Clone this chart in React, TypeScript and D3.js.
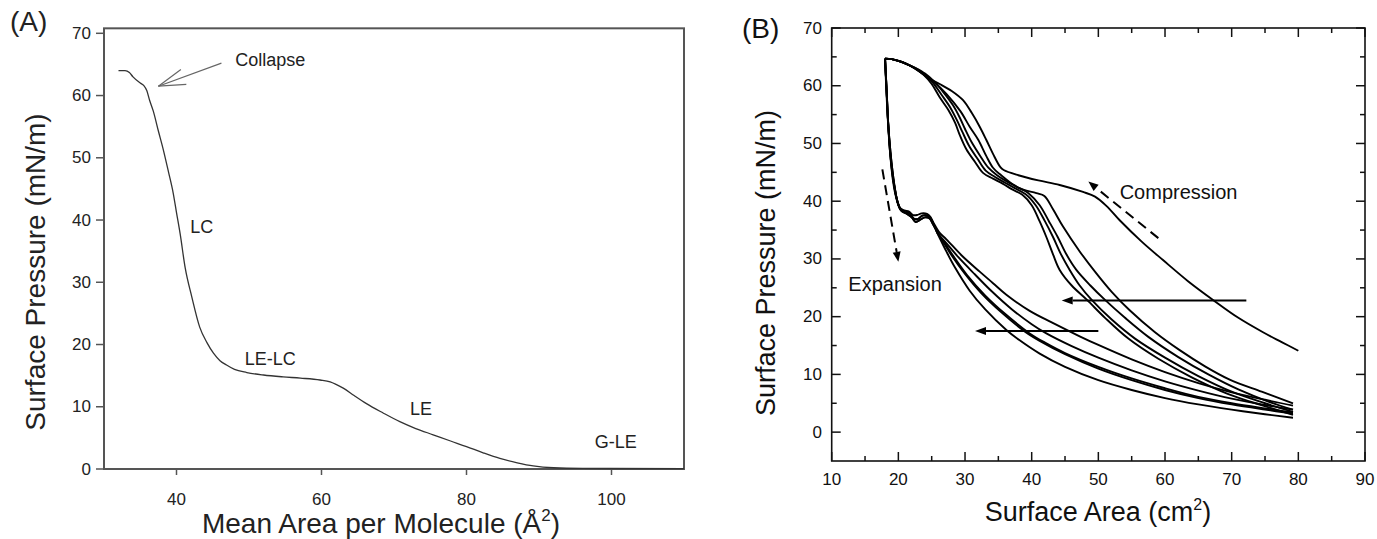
import React from 'react';
import * as d3 from 'd3';

type Pt = [number, number];

// ---------- Panel A data ----------
const isothermA: Pt[] = [
  [32, 64.0], [32.9, 64.0], [33.5, 63.7], [34, 63.0], [35, 62.0], [35.5, 61.6], [35.9, 60.8],
  [36.3, 59.2], [36.8, 57.5], [37.5, 54.3], [38.2, 51.2], [38.9, 47.7], [39.55, 44.3], [40.0, 41.2],
  [40.5, 37.8], [41.2, 32.3], [42.1, 27.7], [43.2, 22.8], [44.2, 20.3], [45.1, 18.6], [46.0, 17.4],
  [46.9, 16.7], [48, 16.0], [49.7, 15.5], [52, 15.1], [54.7, 14.8], [57.1, 14.6], [59.8, 14.3],
  [61.2, 14.0], [62, 13.6], [63, 13.0], [64.5, 11.8], [66.2, 10.5], [68.5, 9.0], [70.8, 7.6],
  [73, 6.5], [75.4, 5.5], [77.8, 4.5], [80, 3.6], [82.3, 2.6], [84.6, 1.7], [87, 1.0], [89.2, 0.5],
  [92, 0.2], [96, 0.1], [110, 0.05],
];
const xTicksA = [40, 60, 80, 100];
const yTicksA = [0, 10, 20, 30, 40, 50, 60, 70];
const labelsA: { text: string; x: number; y: number }[] = [
  { text: 'Collapse', x: 48.1, y: 64.7 },
  { text: 'LC', x: 41.9, y: 37.9 },
  { text: 'LE-LC', x: 49.4, y: 16.7 },
  { text: 'LE', x: 72.2, y: 8.7 },
  { text: 'G-LE', x: 97.7, y: 3.4 },
];
const collapseArrowA: Pt[] = [[46.2, 65.2], [37.5, 61.5]];

// ---------- Panel B data ----------
const compression1: Pt[] = [
  [80, 14.1], [77.5, 15.6], [74.7, 17.3], [71, 19.8], [67.2, 22.9], [63.5, 26.1], [59.7, 29.8],
  [56.5, 33], [53.2, 36.7], [51.2, 39.2], [49.5, 40.8], [47.7, 41.6], [44.2, 42.8], [41, 43.6],
  [38, 44.5], [35.8, 45.4], [35.3, 45.9], [34.2, 48.2], [33.2, 50.6], [32.2, 52.9], [31, 55.3],
  [29.7, 57.5], [28, 59.1], [26.2, 60.3], [24.7, 61.2], [23, 62.6], [21.7, 63.5], [20.3, 64.2],
  [19, 64.6], [18, 64.7],
];
const compression2: Pt[] = [
  [79.2, 5.0], [74.5, 7.0], [69.7, 9.1], [66, 11.4], [62.2, 14.2], [58.5, 17.3], [54.7, 21.1],
  [52, 24.3], [49.7, 27.5], [47.2, 31.3], [44.7, 35.6], [43.2, 38.6], [41.9, 40.9], [40.7, 41.4],
  [38, 42.3], [35.2, 44.7], [34.2, 45.8], [33.2, 47.8], [32, 50.6], [30.7, 52.9], [29.3, 55.6],
  [27.2, 58.6], [25.6, 60.4], [24.5, 61.3], [23, 62.6], [21.7, 63.5], [20.3, 64.2], [19, 64.6],
  [18, 64.7],
];
const compression3: Pt[] = [
  [79.2, 3.0], [74.7, 4.6], [69.5, 6.6], [64, 9.5], [59, 12.7], [54.5, 16.2], [51, 19.8],
  [48.3, 22.9], [46, 25.4], [44.2, 28.1], [43.2, 30.8], [42.2, 33.8], [41.2, 36.5], [40, 39.3],
  [38.6, 41.1], [37, 42.1], [35.7, 43.0], [34.2, 43.9], [32.7, 44.9], [31.5, 46.8], [30.2, 49.0],
  [29.2, 51.5], [28.5, 53.6], [27.5, 55.8], [26.2, 58.0], [25, 60.3], [23.8, 61.9], [22.5, 63],
  [21.2, 63.8], [20, 64.3], [19, 64.6], [18, 64.7],
];
const compression4: Pt[] = [
  [79.2, 3.5], [75, 5], [70, 7], [65, 9.7], [60, 12.9], [55.5, 16.2], [52, 19.5], [49, 22.9],
  [47.2, 25.4], [45.7, 28.1], [44.4, 30.8], [43.2, 33.8], [42, 36.5], [40.6, 39.3], [39.1, 41.2],
  [37.4, 42.3], [36, 43.2], [34.5, 44.2], [33.1, 45.3], [31.9, 47.3], [30.6, 49.6], [29.6, 52],
  [28.8, 54], [27.8, 56.2], [26.5, 58.4], [25.2, 60.5], [23.9, 62], [22.5, 63.1], [21.2, 63.8],
  [20, 64.3], [19, 64.6], [18, 64.7],
];
const compression5: Pt[] = [
  [79.2, 3.9], [75.5, 5.3], [71, 7.4], [66.5, 10], [62, 13], [57.5, 16.5], [54, 19.8], [51, 22.9],
  [48.8, 25.4], [46.7, 28.1], [45.2, 30.8], [43.9, 33.8], [42.6, 36.5], [41.2, 39.3], [39.6, 41.3],
  [37.8, 42.5], [36.3, 43.4], [34.8, 44.5], [33.5, 45.8], [32.3, 47.8], [31, 50.2], [30, 52.5],
  [29.2, 54.5], [28.2, 56.6], [26.8, 58.8], [25.4, 60.7], [24, 62.1], [22.5, 63.1], [21.2, 63.8],
  [20, 64.3], [19, 64.6], [18, 64.7],
];

const expansionHeadA: Pt[] = [
  [18, 64.7], [18.2, 60], [18.45, 54], [18.8, 48], [19.3, 43.2], [19.8, 40.2], [20.3, 38.6],
  [21, 38.1], [21.7, 37.9], [22.3, 37.0], [22.9, 36.9], [23.6, 37.5], [24.4, 37.5], [24.9, 36.9],
  [25.4, 35.7],
];
const expansionHeadB: Pt[] = [
  [18, 64.7], [18.25, 59], [18.5, 53], [18.9, 47.5], [19.4, 42.8], [19.9, 39.8], [20.5, 38.3],
  [21.3, 37.8], [22, 37.2], [22.6, 36.4], [23.3, 36.8], [24.0, 37.2], [24.7, 37.0], [25.2, 36.0],
  [25.6, 35.2],
];
const expansionHeadC: Pt[] = [
  [18, 64.7], [18.15, 60.5], [18.4, 54.5], [18.75, 48.5], [19.2, 43.5], [19.7, 40.5], [20.2, 38.9],
  [20.9, 38.4], [21.6, 38.2], [22.2, 37.6], [22.8, 37.6], [23.5, 37.9], [24.3, 37.8], [24.8, 37.3],
  [25.3, 36.2],
];
const expansion1: Pt[] = [
  ...expansionHeadC,
  [26.2, 34.5], [27.2, 33.4], [29.5, 30.6], [32.2, 27.8], [34.2, 25.8], [36.2, 23.8], [39.7, 21.0],
  [43, 19.0], [47.2, 16.6], [50, 15.1], [55, 12.6], [60, 10.4], [65, 8.5], [70, 6.9], [75, 5.6],
  [79.2, 4.6],
];
const expansion2: Pt[] = [
  ...expansionHeadA,
  [26, 34.3], [27, 33], [29, 30.3], [31.5, 27.3], [34, 24.4], [37, 21.3], [40, 18.7], [42.2, 17.1],
  [46, 14.9], [50, 12.9], [55, 10.7], [60, 8.8], [65, 7.2], [70, 5.8], [75, 4.7], [79.2, 3.9],
];
const expansion3: Pt[] = [
  ...expansionHeadB,
  [25.9, 34.5], [26.6, 33.2], [28, 30.6], [30, 27.4], [32.5, 24], [35.5, 20.7], [39, 17.4],
  [41.2, 15.8], [45, 13.5], [50, 11], [55, 9], [60, 7.3], [65, 5.9], [70, 4.8], [75, 3.9], [79.2, 3.2],
];
const expansion4: Pt[] = [
  ...expansionHeadA,
  [25.9, 34.4], [26.8, 33], [28.3, 30.4], [30.3, 27.2], [33, 23.7], [36, 20.5], [39.7, 17.1],
  [42, 15.5], [45, 13.7], [50, 11.3], [55, 9.3], [60, 7.6], [65, 6.1], [70, 5.0], [75, 4.1],
  [79.2, 3.4],
];
const expansion5: Pt[] = [
  ...expansionHeadB,
  [25.8, 34.6], [26.3, 33.4], [27.2, 31.3], [28.5, 28.5], [30.7, 24.5], [33, 21.3], [36.2, 17.7],
  [38.2, 15.9], [41.2, 13.6], [45, 11.3], [50, 9.0], [55, 7.3], [60, 5.9], [65, 4.8], [70, 3.9],
  [75, 3.1], [79.2, 2.5],
];
const curvesB: Pt[][] = [
  compression1, compression2, compression3, compression4, compression5,
  expansion1, expansion2, expansion3, expansion4, expansion5,
];
const xTicksB = [10, 20, 30, 40, 50, 60, 70, 80, 90];
const xMinorB = [15, 25, 35, 45, 55, 65, 75, 85];
const yTicksB = [0, 10, 20, 30, 40, 50, 60, 70];
const yMinorB = [5, 15, 25, 35, 45, 55, 65];
const solidArrowsB: Pt[][] = [
  [[72.2, 22.8], [44.5, 22.8]],
  [[50, 17.5], [31.5, 17.5]],
];
const dashedArrowsB: Pt[][] = [
  [[17.6, 45.5], [20.0, 29.5]],
  [[59.0, 33.6], [48.5, 43.4]],
];
const labelsB: { text: string; x: number; y: number }[] = [
  { text: 'Compression', x: 53.2, y: 40.3 },
  { text: 'Expansion', x: 12.5, y: 24.4 },
];

const FONT = "'Liberation Sans', Arial, Helvetica, sans-serif";

function headPath(x0: number, y0: number, x1: number, y1: number, len: number, half: number) {
  const a = Math.atan2(y1 - y0, x1 - x0);
  const bx = x1 - len * Math.cos(a);
  const by = y1 - len * Math.sin(a);
  const px = -Math.sin(a);
  const py = Math.cos(a);
  return {
    d: `M${x1},${y1}L${bx + half * px},${by + half * py}L${bx - half * px},${by - half * py}Z`,
    bx,
    by,
  };
}

export default function App() {
  // Panel A scales
  const xA = d3.scaleLinear().domain([30, 110]).range([104, 684]);
  const yA = d3.scaleLinear().domain([0, 70]).range([469, 33.3]);
  const topA = yA(70.8);
  const lineA = d3
    .line<Pt>()
    .x((d) => xA(d[0]))
    .y((d) => yA(d[1]))
    .curve(d3.curveMonotoneX);

  // Panel B scales
  const xB = d3.scaleLinear().domain([10, 90]).range([831.7, 1365]);
  const yB = d3.scaleLinear().domain([-5, 70]).range([461, 28]);
  const lineB = d3
    .line<Pt>()
    .x((d) => xB(d[0]))
    .y((d) => yB(d[1]))
    .curve(d3.curveCatmullRom.alpha(0.5));

  const grayA = '#555';
  const textA = '#222';

  // collapse arrow (open barbs)
  const [cs, ct] = collapseArrowA;
  const tx = xA(ct[0]);
  const ty = yA(ct[1]);
  const sx = xA(cs[0]);
  const sy = yA(cs[1]);
  const ang = Math.atan2(sy - ty, sx - tx);
  const barb = 28;
  const spread = (16.5 * Math.PI) / 180;

  return (
    <svg
      width={1377}
      height={539}
      style={{ position: 'absolute', left: 0, top: 0, background: '#fff' }}
      fontFamily={FONT}
    >
      <rect x={0} y={0} width={1377} height={539} fill="#fff" />
      {/* ================= Panel A ================= */}
      <text x={10} y={31} fontSize={28} fill={textA}>(A)</text>
      <rect
        x={xA(30)}
        y={topA}
        width={xA(110) - xA(30)}
        height={yA(0) - topA}
        fill="none"
        stroke={grayA}
        strokeWidth={2}
      />
      {yTicksA.map((t) => (
        <g key={'ya' + t}>
          <line x1={xA(30) - 8} x2={xA(30)} y1={yA(t)} y2={yA(t)} stroke={grayA} strokeWidth={1.5} />
          <text x={91} y={yA(t)} fontSize={17} fill={textA} textAnchor="end" dominantBaseline="central">
            {t}
          </text>
        </g>
      ))}
      {xTicksA.map((t) => (
        <g key={'xa' + t}>
          <line x1={xA(t)} x2={xA(t)} y1={yA(0)} y2={yA(0) + 6} stroke={grayA} strokeWidth={1.5} />
          <text x={xA(t)} y={505} fontSize={17} fill={textA} textAnchor="middle">
            {t}
          </text>
        </g>
      ))}
      <path d={lineA(isothermA) || ''} fill="none" stroke="#333" strokeWidth={1.3} />
      <line x1={sx} y1={sy} x2={tx} y2={ty} stroke="#666" strokeWidth={1.2} />
      <line
        x1={tx}
        y1={ty}
        x2={tx + barb * Math.cos(ang - spread)}
        y2={ty + barb * Math.sin(ang - spread)}
        stroke="#666"
        strokeWidth={1.2}
      />
      <line
        x1={tx}
        y1={ty}
        x2={tx + barb * Math.cos(ang + spread)}
        y2={ty + barb * Math.sin(ang + spread)}
        stroke="#666"
        strokeWidth={1.2}
      />
      {labelsA.map((l) => (
        <text key={l.text} x={xA(l.x)} y={yA(l.y)} fontSize={18} fill={textA}>
          {l.text}
        </text>
      ))}
      <text
        transform={`translate(45,272) rotate(-90)`}
        textAnchor="middle"
        fontSize={28}
        fill={textA}
      >
        Surface Pressure (mN/m)
      </text>
      <text x={381} y={533} textAnchor="middle" fontSize={28} fill={textA}>
        Mean Area per Molecule (Å<tspan fontSize={17} dy={-12}>2</tspan>
        <tspan dy={12}>)</tspan>
      </text>

      {/* ================= Panel B ================= */}
      <text x={742} y={38} fontSize={28} fill="#111">(B)</text>
      {curvesB.map((c, i) => (
        <path key={'c' + i} d={lineB(c) || ''} fill="none" stroke="#000" strokeWidth={1.9} strokeLinejoin="round" />
      ))}
      {/* frame */}
      <rect
        x={xB(10)}
        y={yB(70)}
        width={xB(90) - xB(10)}
        height={yB(-5) - yB(70)}
        fill="none"
        stroke="#111"
        strokeWidth={1.6}
      />
      {xTicksB.map((t) => (
        <g key={'xb' + t}>
          <line x1={xB(t)} x2={xB(t)} y1={yB(-5)} y2={yB(-5) - 9} stroke="#111" strokeWidth={1.5} />
          <line x1={xB(t)} x2={xB(t)} y1={yB(70)} y2={yB(70) + 9} stroke="#111" strokeWidth={1.5} />
          <text x={xB(t)} y={485} fontSize={17} textAnchor="middle" fill="#111">
            {t}
          </text>
        </g>
      ))}
      {xMinorB.map((t) => (
        <g key={'xbm' + t}>
          <line x1={xB(t)} x2={xB(t)} y1={yB(-5)} y2={yB(-5) - 5} stroke="#111" strokeWidth={1.5} />
          <line x1={xB(t)} x2={xB(t)} y1={yB(70)} y2={yB(70) + 5} stroke="#111" strokeWidth={1.5} />
        </g>
      ))}
      {yTicksB.map((t) => (
        <g key={'yb' + t}>
          <line x1={xB(10)} x2={xB(10) + 9} y1={yB(t)} y2={yB(t)} stroke="#111" strokeWidth={1.5} />
          <line x1={xB(90)} x2={xB(90) - 9} y1={yB(t)} y2={yB(t)} stroke="#111" strokeWidth={1.5} />
          <text x={822} y={yB(t)} fontSize={17} textAnchor="end" dominantBaseline="central" fill="#111">
            {t}
          </text>
        </g>
      ))}
      {yMinorB.map((t) => (
        <g key={'ybm' + t}>
          <line x1={xB(10)} x2={xB(10) + 5} y1={yB(t)} y2={yB(t)} stroke="#111" strokeWidth={1.5} />
          <line x1={xB(90)} x2={xB(90) - 5} y1={yB(t)} y2={yB(t)} stroke="#111" strokeWidth={1.5} />
        </g>
      ))}
      {solidArrowsB.map((a, i) => {
        const x0 = xB(a[0][0]);
        const y0 = yB(a[0][1]);
        const x1 = xB(a[1][0]);
        const y1 = yB(a[1][1]);
        const h = headPath(x0, y0, x1, y1, 11, 4);
        return (
          <g key={'sa' + i}>
            <line x1={x0} y1={y0} x2={h.bx} y2={h.by} stroke="#000" strokeWidth={2} />
            <path d={h.d} fill="#000" />
          </g>
        );
      })}
      {dashedArrowsB.map((a, i) => {
        const x0 = xB(a[0][0]);
        const y0 = yB(a[0][1]);
        const x1 = xB(a[1][0]);
        const y1 = yB(a[1][1]);
        const h = headPath(x0, y0, x1, y1, 10, 4);
        return (
          <g key={'da' + i}>
            <line x1={x0} y1={y0} x2={h.bx} y2={h.by} stroke="#000" strokeWidth={2} strokeDasharray="10,6" />
            <path d={h.d} fill="#000" />
          </g>
        );
      })}
      {labelsB.map((l) => (
        <text key={l.text} x={xB(l.x)} y={yB(l.y)} fontSize={20} fill="#111">
          {l.text}
        </text>
      ))}
      <text transform={`translate(775,263) rotate(-90)`} textAnchor="middle" fontSize={27} fill="#111">
        Surface Pressure (mN/m)
      </text>
      <text x={1098} y={521} textAnchor="middle" fontSize={27} fill="#111">
        Surface Area (cm<tspan fontSize={16} dy={-11}>2</tspan>
        <tspan dy={11}>)</tspan>
      </text>
    </svg>
  );
}
